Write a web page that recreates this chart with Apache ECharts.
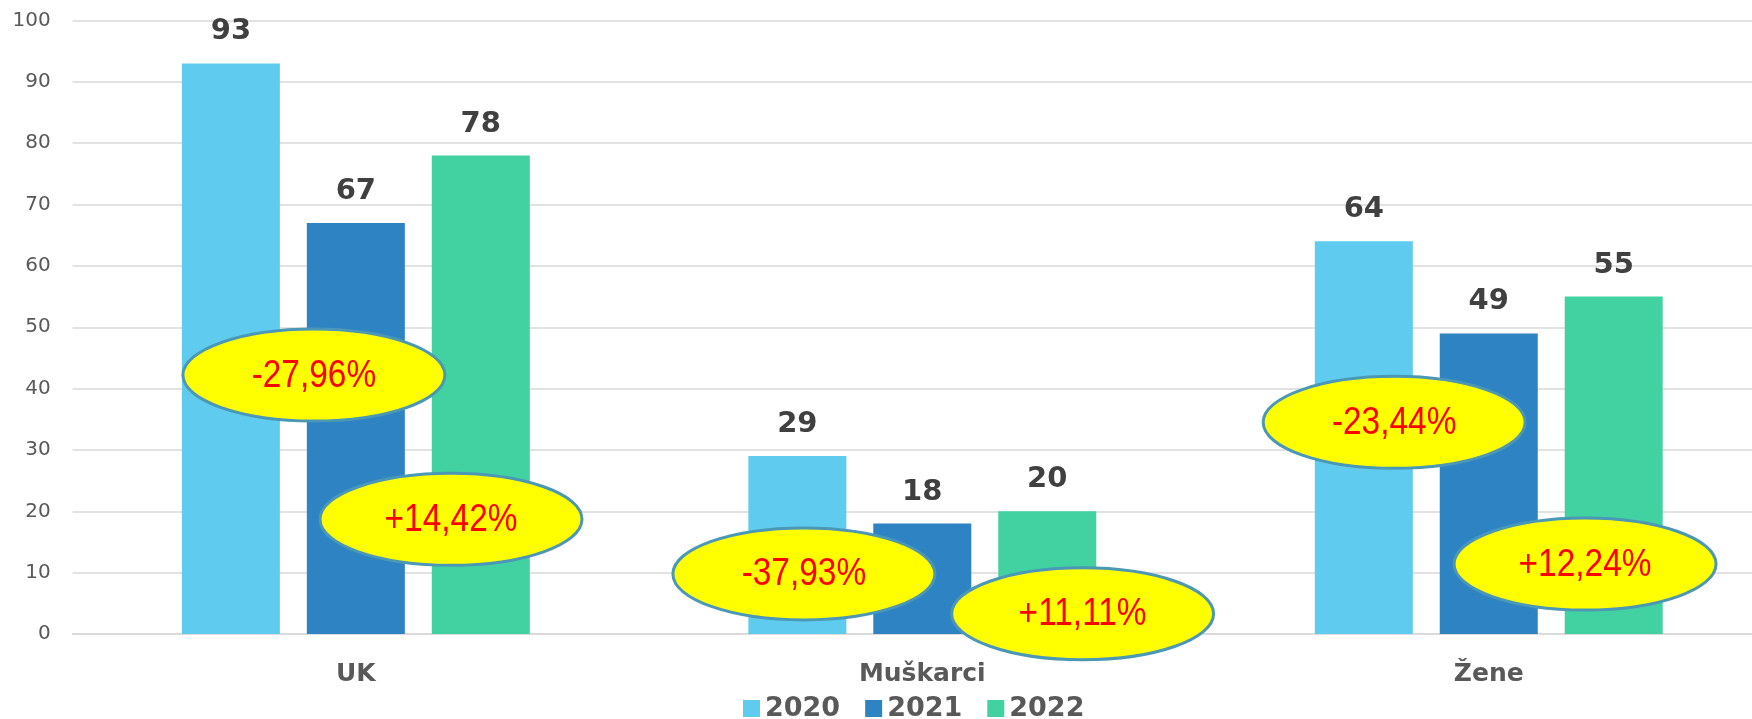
<!DOCTYPE html>
<html>
<head>
<meta charset="utf-8">
<script src="https://cdn.jsdelivr.net/npm/echarts@6/dist/echarts.min.js"></script>
<style>
    html, body { margin: 0; padding: 0; background: #fff; overflow: hidden; }
    /* plot runs past the right edge of the window, as in the original */
    #chart { width: 1772px; height: 719px; }
</style>
</head>
<body>
<div id="chart"></div>
<script>
// chart values
const categories = ['UK', 'Muškarci', 'Žene']
const years = ['2020', '2021', '2022']
const values2020 = [93, 29, 64]
const values2021 = [67, 18, 49]
const values2022 = [78, 20, 55]
const yMin = 0, yMax = 100, yStep = 10

// change callouts (yellow ellipses)
const changeLabels = ['-27,96%', '+14,42%', '-37,93%', '+11,11%', '-23,44%', '+12,24%']
const changeCategory = [0, 0, 1, 1, 2, 2]

// where each callout sits: y in axis units, x shift as share of the category band
const calloutY = [42.2, 18.7, 9.8, 3.3, 34.5, 11.4]
const calloutShift = [-0.074, 0.168, -0.209, 0.283, -0.167, 0.170]

const colors = ['#5fcbef', '#2e83c3', '#42d1a1']
const font = '"DejaVu Sans", Verdana, sans-serif'

const chart = echarts.init(document.getElementById('chart'))

const barSeries = [values2020, values2021, values2022].map((vals, i) => ({
    name: years[i],
    type: 'bar',
    data: vals,
    barWidth: 98,
    barGap: '27.5%',
    itemStyle: { color: colors[i] },
    label: {
        show: true,
        position: 'top',
        distance: 17,
        fontFamily: font,
        fontSize: 29,
        fontWeight: 'bold',
        color: '#404040'
    },
    z: 2
}))

const callouts = {
    type: 'custom',
    name: 'callouts',
    data: changeCategory.map((c, i) => [c, calloutY[i], calloutShift[i]]),
    encode: { x: 0, y: 1 },
    clip: false,
    z: 10,
    silent: true,
    renderItem(params, api){
        const p = api.coord([api.value(0), api.value(1)])
        const band = api.size([1, 0])[0]
        const cx = p[0] + api.value(2) * band
        return {
            type: 'group',
            children: [
                {
                    type: 'ellipse',
                    shape: { cx: cx, cy: p[1], rx: 131, ry: 46 },
                    style: { fill: '#ffff00', stroke: '#4a98b6', lineWidth: 3 }
                },
                {
                    // narrow the glyphs a bit, the original uses a condensed face
                    type: 'text',
                    x: cx,
                    y: p[1] + 1,
                    scaleX: 0.88,
                    style: {
                        text: changeLabels[params.dataIndex],
                        fill: '#ff0000',
                        fontFamily: '"Liberation Sans", Arial, sans-serif',
                        fontSize: 38,
                        align: 'center',
                        verticalAlign: 'middle'
                    }
                }
            ]
        }
    }
}

chart.setOption({
    animation: false,
    color: colors,
    grid: { left: 72.6, right: 0, top: 20.5, bottom: 85, containLabel: false },
    legend: {
        data: years,
        left: 738,
        top: 690,
        itemWidth: 17,
        itemHeight: 17,
        itemGap: 25,
        icon: 'rect',
        textStyle: { fontFamily: font, fontSize: 27, fontWeight: 'bold', color: '#595959', padding: [0, 0, 0, 0] }
    },
    xAxis: {
        type: 'category',
        data: categories,
        axisTick: { show: false },
        axisLine: { lineStyle: { color: '#d9d9d9', width: 1.5 } },
        axisLabel: { fontFamily: font, fontSize: 25, fontWeight: 'bold', color: '#595959', margin: 28 }
    },
    yAxis: {
        type: 'value',
        min: yMin,
        max: yMax,
        interval: yStep,
        axisLine: { show: false },
        axisTick: { show: false },
        splitLine: { lineStyle: { color: '#d9d9d9', width: 1.5 } },
        axisLabel: { fontFamily: font, fontSize: 20, color: '#595959', margin: 22 }
    },
    series: [...barSeries, callouts]
})
</script>
</body>
</html>
